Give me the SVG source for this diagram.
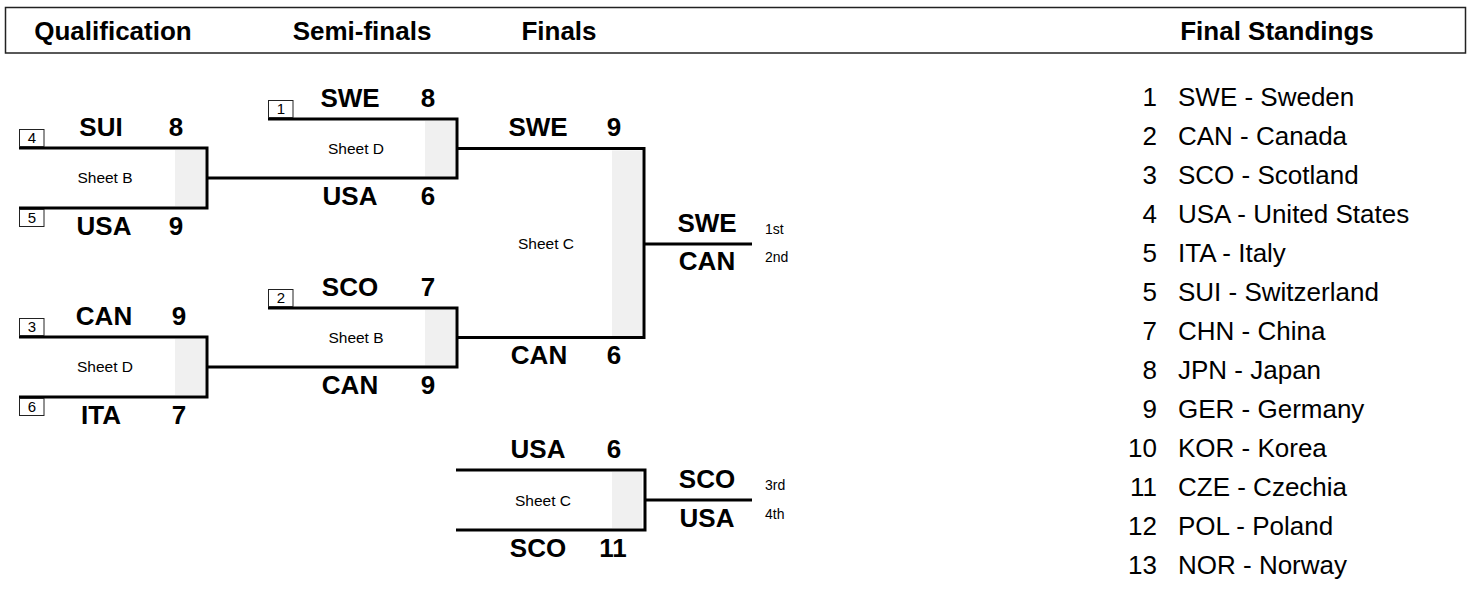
<svg xmlns="http://www.w3.org/2000/svg" width="1476" height="593" viewBox="0 0 1476 593">
<style>
.hdr{font-family:"Liberation Sans",Arial,sans-serif;font-weight:bold;font-size:26px;fill:#000;text-anchor:middle}
.team{font-family:"Liberation Sans",Arial,sans-serif;font-weight:bold;font-size:26px;fill:#000;text-anchor:middle}
.sheet{font-family:"Liberation Sans",Arial,sans-serif;font-size:15.5px;fill:#000;text-anchor:middle}
.seed{font-family:"Liberation Sans",Arial,sans-serif;font-size:15px;fill:#000;text-anchor:middle}
.place{font-family:"Liberation Sans",Arial,sans-serif;font-size:14px;fill:#000}
.stand{font-family:"Liberation Sans",Arial,sans-serif;font-size:26px;fill:#000}
.num{text-anchor:end}
.br{fill:none;stroke:#000;stroke-width:3}
.gray{fill:#f0f0f0}
.sbox{fill:#fff;stroke:#222;stroke-width:1}
.hbox{fill:#fff;stroke:#222;stroke-width:1.5}
</style>
<rect width="1476" height="593" fill="#fff"/>
<g id="header">
<rect class="hbox" x="5.5" y="7.5" width="1460" height="45.5"/>
<text class="hdr" x="113" y="40">Qualification</text>
<text class="hdr" x="362" y="40">Semi-finals</text>
<text class="hdr" x="559" y="40">Finals</text>
<text class="hdr" x="1277" y="40">Final Standings</text>
</g>
<g id="qual1">
<rect class="gray" x="175" y="150" width="30" height="56"/>
<path class="br" d="M19,148 H207 V208 H19"/>
<rect class="sbox" x="19.5" y="129.5" width="24.5" height="17"/>
<text class="seed" x="31.8" y="143">4</text>
<rect class="sbox" x="19.5" y="209.5" width="24.5" height="17"/>
<text class="seed" x="31.8" y="223">5</text>
<text class="team" x="101" y="136">SUI</text>
<text class="team" x="176" y="136">8</text>
<text class="sheet" x="105" y="183">Sheet B</text>
<text class="team" x="104" y="235">USA</text>
<text class="team" x="176" y="235">9</text>
</g>
<g id="qual2">
<rect class="gray" x="175" y="339" width="30" height="56"/>
<path class="br" d="M19,337 H207 V397 H19"/>
<rect class="sbox" x="19.5" y="318.5" width="24.5" height="17"/>
<text class="seed" x="31.8" y="332">3</text>
<rect class="sbox" x="19.5" y="398.5" width="24.5" height="17"/>
<text class="seed" x="31.8" y="412">6</text>
<text class="team" x="104" y="325">CAN</text>
<text class="team" x="179" y="325">9</text>
<text class="sheet" x="105" y="372">Sheet D</text>
<text class="team" x="101" y="424">ITA</text>
<text class="team" x="179" y="424">7</text>
</g>
<g id="semi1">
<rect class="gray" x="425" y="121" width="30" height="55.5"/>
<path class="br" d="M268,119 H457 V178 H268"/>
<rect class="sbox" x="268.5" y="100.5" width="24.5" height="17"/>
<text class="seed" x="280.8" y="114">1</text>
<text class="team" x="350" y="107">SWE</text>
<text class="team" x="428" y="107">8</text>
<text class="sheet" x="356" y="154">Sheet D</text>
<text class="team" x="350" y="205">USA</text>
<text class="team" x="428" y="205">6</text>
</g>
<g id="semi2">
<rect class="gray" x="425" y="310" width="30" height="55.5"/>
<path class="br" d="M268,308 H457 V367 H268"/>
<rect class="sbox" x="268.5" y="289.5" width="24.5" height="17"/>
<text class="seed" x="280.8" y="303">2</text>
<text class="team" x="350" y="296">SCO</text>
<text class="team" x="428" y="296">7</text>
<text class="sheet" x="356" y="343">Sheet B</text>
<text class="team" x="350" y="394">CAN</text>
<text class="team" x="428" y="394">9</text>
</g>
<g id="final">
<rect class="gray" x="612" y="150.5" width="30" height="185.5"/>
<path class="br" d="M480,148.5 H644 V337.5 H480"/>
<text class="team" x="538" y="136">SWE</text>
<text class="team" x="614" y="136">9</text>
<text class="sheet" x="546" y="249">Sheet C</text>
<text class="team" x="539" y="364">CAN</text>
<text class="team" x="614" y="364">6</text>
</g>
<g id="bronze">
<rect class="gray" x="612" y="472" width="30" height="56"/>
<path class="br" d="M456,470 H645 V530 H456"/>
<text class="team" x="538" y="458">USA</text>
<text class="team" x="614" y="458">6</text>
<text class="sheet" x="543" y="506">Sheet C</text>
<text class="team" x="538" y="557">SCO</text>
<text class="team" x="613" y="557">11</text>
</g>
<g id="result-final">
<text class="team" x="707" y="232">SWE</text>
<text class="team" x="707" y="270">CAN</text>
<text class="place" x="765" y="234">1st</text>
<text class="place" x="765" y="262">2nd</text>
</g>
<g id="result-bronze">
<text class="team" x="707" y="488">SCO</text>
<text class="team" x="707" y="527">USA</text>
<text class="place" x="765" y="490">3rd</text>
<text class="place" x="765" y="519">4th</text>
</g>
<g id="connectors">
<path class="br" d="M207,178 H268"/>
<path class="br" d="M207,367 H268"/>
<path class="br" d="M457,148.5 H480"/>
<path class="br" d="M457,337.5 H480"/>
<path class="br" d="M644,244 H752"/>
<path class="br" d="M645,500 H752"/>
</g>
<g id="standings">
<text class="stand num" x="1157" y="106">1</text><text class="stand" x="1178" y="106">SWE - Sweden</text>
<text class="stand num" x="1157" y="145">2</text><text class="stand" x="1178" y="145">CAN - Canada</text>
<text class="stand num" x="1157" y="184">3</text><text class="stand" x="1178" y="184">SCO - Scotland</text>
<text class="stand num" x="1157" y="223">4</text><text class="stand" x="1178" y="223">USA - United States</text>
<text class="stand num" x="1157" y="262">5</text><text class="stand" x="1178" y="262">ITA - Italy</text>
<text class="stand num" x="1157" y="301">5</text><text class="stand" x="1178" y="301">SUI - Switzerland</text>
<text class="stand num" x="1157" y="340">7</text><text class="stand" x="1178" y="340">CHN - China</text>
<text class="stand num" x="1157" y="379">8</text><text class="stand" x="1178" y="379">JPN - Japan</text>
<text class="stand num" x="1157" y="418">9</text><text class="stand" x="1178" y="418">GER - Germany</text>
<text class="stand num" x="1157" y="457">10</text><text class="stand" x="1178" y="457">KOR - Korea</text>
<text class="stand num" x="1157" y="496">11</text><text class="stand" x="1178" y="496">CZE - Czechia</text>
<text class="stand num" x="1157" y="535">12</text><text class="stand" x="1178" y="535">POL - Poland</text>
<text class="stand num" x="1157" y="574">13</text><text class="stand" x="1178" y="574">NOR - Norway</text>
</g>
</svg>
